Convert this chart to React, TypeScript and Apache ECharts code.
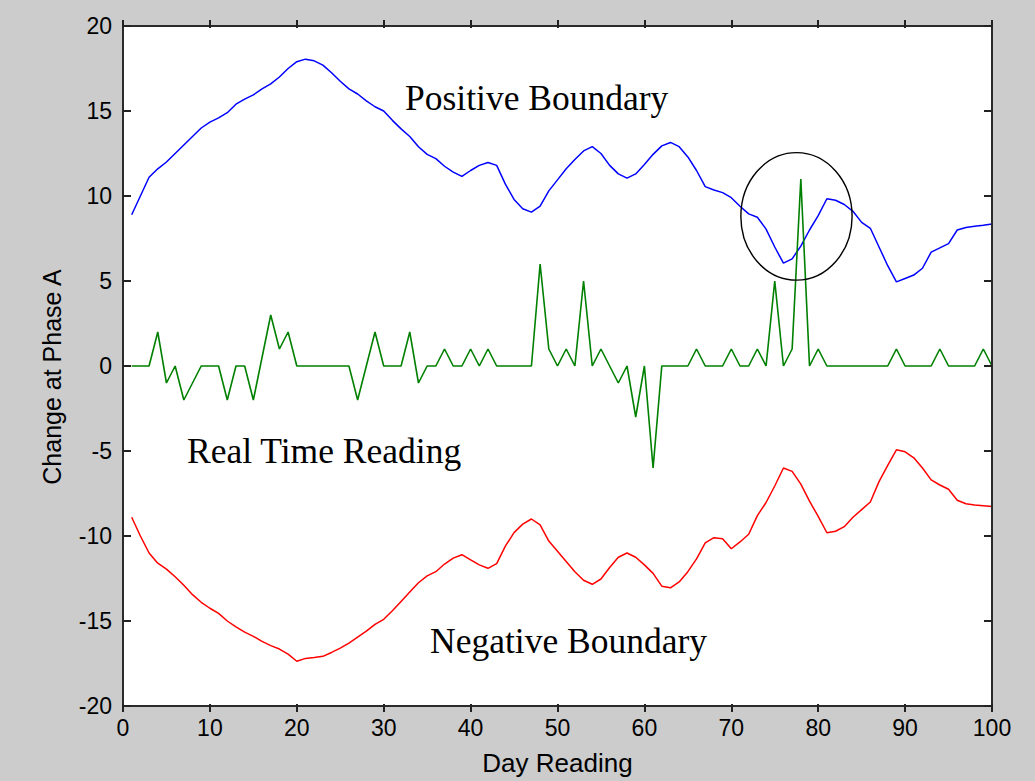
import React, { useEffect, useRef } from "react";
import * as echarts from "echarts";

// Day index runs 1..100 (position in the arrays below)
const POSITIVE = [
  8.9, 10.0, 11.1, 11.6, 12.0, 12.5, 13.0, 13.5, 14.0, 14.35,
  14.6, 14.9, 15.4, 15.7, 15.95, 16.3, 16.6, 17.0, 17.5, 17.9,
  18.05, 17.95, 17.7, 17.25, 16.75, 16.3, 16.0, 15.6, 15.25, 15.0,
  14.45, 13.95, 13.5, 12.9, 12.45, 12.2, 11.75, 11.4, 11.15, 11.5,
  11.8, 11.97, 11.8, 10.7, 9.8, 9.25, 9.05, 9.4, 10.3, 10.95,
  11.6, 12.15, 12.65, 12.9, 12.5, 11.8, 11.3, 11.05, 11.3, 11.85,
  12.45, 12.95, 13.15, 12.9, 12.3, 11.5, 10.55, 10.35, 10.2, 9.9,
  9.4, 8.95, 8.75, 8.05, 7.0, 6.05, 6.3, 7.05, 8.0, 8.85,
  9.84, 9.75, 9.5, 9.1, 8.45, 8.1, 7.0, 5.9, 4.95, 5.15,
  5.35, 5.75, 6.7, 6.95, 7.2, 8.0, 8.15, 8.22, 8.28, 8.35,
];

const NEGATIVE = [
  -8.9, -10.0, -11.0, -11.6, -11.95, -12.4, -12.9, -13.45, -13.9, -14.25,
  -14.55, -15.0, -15.35, -15.65, -15.9, -16.2, -16.45, -16.65, -16.95, -17.37,
  -17.2, -17.15, -17.08, -16.85, -16.6, -16.3, -15.95, -15.6, -15.2, -14.9,
  -14.4, -13.85, -13.3, -12.75, -12.35, -12.1, -11.65, -11.3, -11.1, -11.4,
  -11.7, -11.9, -11.62, -10.6, -9.8, -9.3, -9.0, -9.35, -10.3, -10.9,
  -11.5, -12.1, -12.6, -12.84, -12.53, -11.85, -11.25, -11.0, -11.25, -11.7,
  -12.2, -12.95, -13.05, -12.7, -12.1, -11.35, -10.4, -10.1, -10.16, -10.75,
  -10.35, -9.9, -8.8, -8.03, -7.06, -6.0, -6.2, -6.95, -7.95, -8.85,
  -9.81, -9.72, -9.45, -8.9, -8.45, -8.0, -6.8, -5.85, -4.93, -5.05,
  -5.4, -6.0, -6.7, -7.0, -7.25, -7.9, -8.1, -8.17, -8.22, -8.27,
];

const REAL_TIME = [
  0, 0, 0, 2, -1, 0, -2, -1, 0, 0,
  0, -2, 0, 0, -2, 0.5, 3, 1, 2, 0,
  0, 0, 0, 0, 0, 0, -2, 0, 2, 0,
  0, 0, 2, -1, 0, 0, 1, 0, 0, 1,
  0, 1, 0, 0, 0, 0, 0, 6, 1, 0,
  1, 0, 5, 0, 1, 0, -1, 0, -3, 0,
  -6, 0, 0, 0, 0, 1, 0, 0, 0, 1,
  0, 0, 1, 0, 5, 0, 1, 11, 0, 1,
  0, 0, 0, 0, 0, 0, 0, 0, 1, 0,
  0, 0, 0, 1, 0, 0, 0, 0, 1, 0,
];

// Annotation circle (data units): centre and half extents
const CIRCLE_CENTER = [77.5, 8.8];
const CIRCLE_HALF = [6.4, 3.75];

const LABELS = [
  { text: "Positive Boundary", x: 405, y: 98 },
  { text: "Real Time Reading", x: 187, y: 451 },
  { text: "Negative Boundary", x: 430, y: 641 },
];

const toPairs = (arr: number[]) => arr.map((v, i) => [i + 1, v]);

const GRID = { left: 123, top: 26, width: 869, height: 686 };

const mkLine = () => ({ show: true, onZero: false, lineStyle: { color: "#2b2b2b", width: 2 } });
const noLine = () => ({ show: false, onZero: false });
const outTick = () => ({ show: true, inside: false, length: 8, lineStyle: { color: "#222", width: 2 } });

export default function App() {
  const ref = useRef<HTMLDivElement>(null);

  useEffect(() => {
    document.body.style.margin = "0";
    document.body.style.background = "#cccccc";
    const chart = echarts.init(ref.current!, null, { renderer: "svg" });
    const sans = "Liberation Sans, Arial, sans-serif";
    const xBase = { type: "value", min: 0, max: 100, interval: 10, splitLine: { show: false } };
    const yBase = { type: "value", min: -20, max: 20, interval: 5, splitLine: { show: false } };
    chart.setOption({
      animation: false,
      backgroundColor: "#cccccc",
      grid: { ...GRID, show: true, backgroundColor: "#ffffff", borderWidth: 0 },
      xAxis: [
        {
          ...xBase, position: "bottom", offset: 0, z: 5,
          axisLine: mkLine(), axisTick: { show: false },
          axisLabel: { color: "#000", fontFamily: sans, fontSize: 23, margin: 10 },
          name: "Day Reading", nameLocation: "middle", nameGap: 44,
          nameTextStyle: { color: "#000", fontFamily: sans, fontSize: 26 },
        },
        {
          ...xBase, position: "top", offset: 0, z: 5,
          axisLine: mkLine(), axisTick: { show: false }, axisLabel: { show: false },
        },
        // tick-only axes moved onto the opposite edge so their outward ticks point into the plot
        {
          ...xBase, position: "top", offset: -GRID.height, z: 6,
          axisLine: noLine(), axisTick: outTick(), axisLabel: { show: false },
        },
        {
          ...xBase, position: "bottom", offset: -GRID.height, z: 6,
          axisLine: noLine(), axisTick: outTick(), axisLabel: { show: false },
        },
      ],
      yAxis: [
        {
          ...yBase, position: "left", offset: 0, z: 5,
          axisLine: mkLine(), axisTick: { show: false },
          axisLabel: { color: "#000", fontFamily: sans, fontSize: 23, margin: 11 },
          name: "Change at Phase A", nameLocation: "middle", nameGap: 59,
          nameTextStyle: { color: "#000", fontFamily: sans, fontSize: 25, padding: [0, 22, 0, 0] },
        },
        {
          ...yBase, position: "right", offset: 0, z: 5,
          axisLine: mkLine(), axisTick: { show: false }, axisLabel: { show: false },
        },
        {
          ...yBase, position: "right", offset: -GRID.width, z: 6,
          axisLine: noLine(), axisTick: outTick(), axisLabel: { show: false },
        },
        {
          ...yBase, position: "left", offset: -GRID.width, z: 6,
          axisLine: noLine(), axisTick: outTick(), axisLabel: { show: false },
        },
      ],
      series: [
        { type: "line", data: toPairs(POSITIVE), showSymbol: false, lineStyle: { color: "#0000ff", width: 1.5 }, z: 3 },
        { type: "line", data: toPairs(REAL_TIME), showSymbol: false, lineStyle: { color: "#008000", width: 1.6 }, z: 4 },
        { type: "line", data: toPairs(NEGATIVE), showSymbol: false, lineStyle: { color: "#ff0000", width: 1.5 }, z: 3 },
      ],
    });

    const c = chart.convertToPixel({ xAxisIndex: 0, yAxisIndex: 0 }, CIRCLE_CENTER) as number[];
    const e = chart.convertToPixel({ xAxisIndex: 0, yAxisIndex: 0 }, [
      CIRCLE_CENTER[0] + CIRCLE_HALF[0],
      CIRCLE_CENTER[1] + CIRCLE_HALF[1],
    ]) as number[];

    chart.setOption({
      graphic: [
        {
          type: "ellipse",
          shape: { cx: c[0], cy: c[1], rx: Math.abs(e[0] - c[0]), ry: Math.abs(c[1] - e[1]) },
          style: { fill: "none", stroke: "#000", lineWidth: 1.4 },
          z: 10,
        },
        ...LABELS.map((l) => ({
          type: "text",
          x: l.x,
          y: l.y,
          style: {
            text: l.text,
            fill: "#000",
            font: '35.5px "Liberation Serif", "Times New Roman", serif',
            verticalAlign: "middle",
            align: "left",
          },
          z: 10,
        })),
      ],
    });

    return () => chart.dispose();
  }, []);

  return <div ref={ref} style={{ width: 1035, height: 781, background: "#cccccc" }} />;
}
